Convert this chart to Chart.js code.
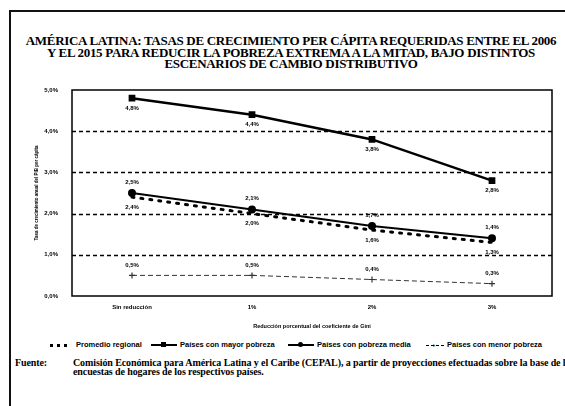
<!DOCTYPE html>
<html lang="es">
<head>
<meta charset="UTF-8">
<title>América Latina: tasas de crecimiento per cápita requeridas</title>
<style>
    html, body { margin: 0; padding: 0; background: #fff; }
    body { width: 565px; height: 406px; overflow: hidden; position: relative; font-family: "Liberation Serif", "Times New Roman", serif; }
    /* scanned page frame: only top and left edges show */
    .frame { position: absolute; left: 9px; top: 10px; width: 600px; height: 420px; border-top: 2px solid #111; border-left: 2px solid #111; }
    .title { position: absolute; left: 11px; top: 35px; width: 560px; text-align: center; font-weight: bold; font-size: 13px; line-height: 11.5px; color: #000; letter-spacing: -0.3px; white-space: nowrap; }
    #wrap { position: absolute; left: 34px; top: 80px; width: 531px; height: 250px; }
    .legend { position: absolute; top: 340px; left: 0; width: 565px; height: 12px; font-family: "Liberation Sans", Arial, sans-serif; font-size: 7.5px; font-weight: bold; color: #000; }
    .legend span.item { position: absolute; top: 0; white-space: nowrap; line-height: 10px; }
    .legend i { display: inline-block; vertical-align: middle; position: relative; margin-right: 3px; width: 26px; height: 0; }
    .src { position: absolute; left: 15px; top: 359px; font-size: 10px; font-weight: bold; line-height: 8.5px; color: #000; white-space: nowrap; letter-spacing: -0.1px; }
    .src b { position: absolute; left: 0; top: 0; }
    .src div { position: absolute; left: 58px; top: 0; }
</style>
</head>
<body>
<div class="frame"></div>
<div class="title">AMÉRICA LATINA: TASAS DE CRECIMIENTO PER CÁPITA REQUERIDAS ENTRE EL 2006<br>Y EL 2015 PARA REDUCIR LA POBREZA EXTREMA A LA MITAD, BAJO DISTINTOS<br>ESCENARIOS DE CAMBIO DISTRIBUTIVO</div>
<div id="wrap"><canvas id="chart"></canvas></div>

<div class="legend">
    <span class="item" style="left:50px"><i style="border-top:3px dotted #000;width:17px;margin-right:9px"></i>Promedio regional</span>
    <span class="item" style="left:151px"><i style="border-top:2px solid #000"><em style="position:absolute;left:10px;top:-4px;width:5px;height:5px;background:#000"></em></i>Países con mayor pobreza</span>
    <span class="item" style="left:288px"><i style="border-top:2px solid #000"><em style="position:absolute;left:10px;top:-4px;width:5px;height:5px;border-radius:50%;background:#000"></em></i>Países con pobreza media</span>
    <span class="item" style="left:426px"><i style="border-top:1px dashed #000;width:18px"><em style="position:absolute;left:6px;top:-3px;font-style:normal;font-size:6px;line-height:5px">+</em></i>Países con menor pobreza</span>
</div>

<div class="src">
    <b>Fuente:</b>
    <div>Comisión Económica para América Latina y el Caribe (CEPAL), a partir de proyecciones efectuadas sobre la base de las<br>encuestas de hogares de los respectivos países.</div>
</div>

<script src="https://cdn.jsdelivr.net/npm/chart.js"></script>
<script>
    // categories (percentage reduction of the Gini coefficient)
    const scenarios = ['Sin reducción', '1%', '2%', '3%'];

    // required per capita growth rates, in %
    const promedioRegional = [2.4, 2.0, 1.6, 1.3];
    const mayorPobreza = [4.8, 4.4, 3.8, 2.8];
    const pobrezaMedia = [2.5, 2.1, 1.7, 1.4];
    const menorPobreza = [0.5, 0.5, 0.4, 0.3];

    const yTicks = [0, 1, 2, 3, 4, 5];

    const pct = v => v.toFixed(1).replace('.', ',') + '%';

    // little value labels next to each point (offset in px, + is down)
    const labelOffsets = [10, 10, -11, -10];

    const pointLabels = {
        id: 'pointLabels',
        afterDatasetsDraw(chart) {
            const ctx = chart.ctx;
            ctx.save();
            ctx.font = 'bold 6px "Liberation Sans", Arial, sans-serif';
            ctx.fillStyle = '#000';
            ctx.textAlign = 'center';
            ctx.textBaseline = 'middle';
            chart.data.datasets.forEach((ds, i) => {
                const meta = chart.getDatasetMeta(i);
                meta.data.forEach((pt, j) => {
                    ctx.fillText(pct(ds.data[j]), pt.x, pt.y + labelOffsets[i]);
                });
            });
            ctx.restore();
        }
    };

    // dashed horizontal grid + solid frame around the plot
    const boxBorder = {
        id: 'boxBorder',
        beforeDatasetsDraw(chart) {
            const { ctx, chartArea: a, scales } = chart;
            ctx.save();
            ctx.strokeStyle = '#000';
            ctx.lineWidth = 1.6;
            ctx.setLineDash([4, 3]);
            yTicks.slice(1, -1).forEach(v => {
                const y = Math.round(scales.y.getPixelForValue(v)) + 0.5;
                ctx.beginPath();
                ctx.moveTo(a.left, y);
                ctx.lineTo(a.right, y);
                ctx.stroke();
            });
            ctx.setLineDash([]);
            ctx.lineWidth = 1.5;
            ctx.strokeRect(a.left, a.top, a.right - a.left, a.bottom - a.top);
            ctx.restore();
        }
    };

    new Chart(document.getElementById('chart'), {
        type: 'line',
        data: {
            labels: scenarios,
            datasets: [
                {
                    label: 'Promedio regional',
                    data: promedioRegional,
                    borderColor: '#000',
                    borderWidth: 3,
                    borderDash: [2, 7],
                    borderCapStyle: 'round',
                    pointRadius: 0,
                    tension: 0
                },
                {
                    label: 'Países con mayor pobreza',
                    data: mayorPobreza,
                    borderColor: '#000',
                    backgroundColor: '#000',
                    borderWidth: 2.5,
                    pointStyle: 'rect',
                    pointRadius: 3,
                    tension: 0
                },
                {
                    label: 'Países con pobreza media',
                    data: pobrezaMedia,
                    borderColor: '#000',
                    backgroundColor: '#000',
                    borderWidth: 2,
                    pointStyle: 'circle',
                    pointRadius: 3,
                    tension: 0
                },
                {
                    label: 'Países con menor pobreza',
                    data: menorPobreza,
                    borderColor: '#333',
                    backgroundColor: '#333',
                    borderWidth: 1,
                    borderDash: [5, 3],
                    pointStyle: 'cross',
                    pointRadius: 3,
                    pointBorderWidth: 1.2,
                    tension: 0
                }
            ]
        },
        options: {
            responsive: true,
            maintainAspectRatio: false,
            animation: false,
            layout: { padding: { top: 10, right: 13, left: 0, bottom: 0 } },
            plugins: {
                legend: { display: false },
                tooltip: { enabled: false }
            },
            scales: {
                x: {
                    offset: true,
                    grid: { display: false },
                    border: { display: false },
                    ticks: {
                        color: '#000',
                        font: { family: '"Liberation Sans", Arial, sans-serif', size: 6, weight: 'bold' },
                        padding: 0,
                        maxRotation: 0
                    },
                    title: {
                        display: true,
                        text: 'Reducción porcentual del coeficiente de Gini',
                        color: '#000',
                        font: { family: '"Liberation Sans", Arial, sans-serif', size: 5.5, weight: 'bold' },
                        padding: { top: 9, bottom: 0 }
                    },
                    afterFit(scale) { scale.height = 34; }
                },
                y: {
                    min: 0,
                    max: 5,
                    afterBuildTicks(scale) { scale.ticks = yTicks.map(v => ({ value: v })); },
                    grid: { display: false },
                    border: { display: false },
                    ticks: {
                        color: '#000',
                        font: { family: '"Liberation Sans", Arial, sans-serif', size: 6, weight: 'bold' },
                        padding: 6,
                        callback: v => pct(v)
                    },
                    title: {
                        display: true,
                        text: 'Tasa de crecimiento anual del PIB per cápita',
                        color: '#000',
                        font: { family: '"Liberation Sans", Arial, sans-serif', size: 4.5, weight: 'bold' },
                        padding: { top: 0, bottom: 4 }
                    },
                    afterFit(scale) { scale.width = 38; }
                }
            }
        },
        plugins: [boxBorder, pointLabels]
    });
</script>
</body>
</html>
